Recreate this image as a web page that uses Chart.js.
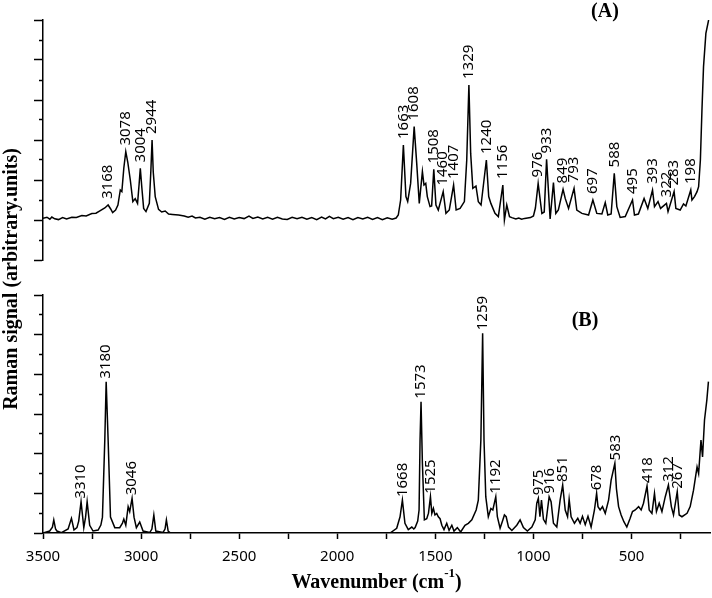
<!DOCTYPE html>
<html>
<head>
<meta charset="utf-8">
<title>Raman spectra</title>
<script src="https://cdn.jsdelivr.net/npm/chart.js@4.4.1/dist/chart.umd.min.js"></script>
<style>
  html, body { margin: 0; padding: 0; background: #fff; }
  #wrap { position: relative; width: 712px; height: 598px; }
</style>
</head>
<body>
<div id="wrap"><canvas id="grafico-raman"></canvas></div>
<script>
// spectrum (A): wavenumber (cm-1) and signal
var waveA = [3500,3480,3465,3455,3440,3421,3400,3380,3353,3330,3302,3280,3251,3230,3208,3185,3168,3155,3145,3130,
    3118,3106,3098,3088,3078,3068,3055,3042,3030,3018,3010,3004,2996,2987,2975,2958,2950,2944,2938,2928,
    2911,2895,2877,2860,2840,2809,2780,2760,2740,2723,
    2700,2675,2650,2625,2600,2575,2550,2525,2500,2475,2450,2430,2405,2380,2355,2330,2305,2280,2255,2230,
    2205,2180,2155,2130,2105,2080,2060,2040,2020,1995,1970,1945,1920,1895,1870,1845,1820,1795,1770,1745,1720,1700,
    1689,1677,1663,1650,1641,1626,1608,1595,1582,1566,1558,1549,1541,1527,1519,1508,1497,1485,1460,1446,
    1429,1407,1394,1374,1352,1340,1329,1320,1309,1293,1281,1267,1240,1228,1217,1196,1179,1156,1148,1136,
    1122,1110,1090,1075,1060,1045,1030,1015,1000,990,976,
    957,945,933,915,898,886,873,849,838,821,793,779,753,719,697,677,651,634,621,604,
    588,575,558,532,495,485,465,436,417,393,383,365,352,322,314,283,274,252,235,223,
    198,192,179,166,158,149,141,133,121,107];
var intA = [2.08,2.14,2.04,2.15,2.06,2.02,2.12,2.05,2.14,2.13,2.22,2.2,2.32,2.34,2.47,2.6,2.75,2.55,2.37,2.5,
    2.75,3.5,3.42,4.6,5.42,4.9,4.0,2.92,3.07,2.83,3.8,4.58,3.6,2.58,2.42,2.83,4.5,6.0,4.4,3.17,
    2.53,2.4,2.45,2.3,2.28,2.25,2.2,2.14,2.2,2.1,
    2.14,2.04,2.13,2.06,2.12,2.03,2.14,2.05,2.12,2.07,2.2,2.08,2.15,2.05,2.13,2.04,2.14,2.05,2.03,2.13,
    2.06,2.14,2.04,2.12,2.02,2.15,2.05,2.18,2.07,2.14,2.04,2.12,2.02,2.12,2.05,2.14,2.03,2.12,2.01,2.11,2.04,2.1,
    2.25,3.0,5.75,3.17,2.92,3.83,6.67,4.83,2.83,4.42,3.75,3.83,3.17,2.67,2.7,4.53,2.75,2.5,3.42,2.33,
    2.5,3.75,2.5,2.58,2.92,5.0,8.75,5.33,3.58,3.7,2.92,2.75,5.0,3.17,2.83,2.33,2.17,3.75,2.0,2.75,
    2.17,2.12,2.05,2.1,2.04,2.08,2.1,2.12,2.2,2.6,3.83,
    2.33,2.4,5.03,2.05,3.87,2.33,2.5,3.53,3.08,2.58,3.58,2.5,2.33,2.25,3.0,2.33,2.3,2.87,2.25,2.3,
    4.33,2.67,2.13,2.17,3.0,2.25,2.3,3.08,2.58,3.5,2.67,2.92,2.58,2.83,2.42,3.42,2.58,2.5,2.8,2.7,
    3.5,3.0,3.17,3.42,3.67,5.0,7.5,9.67,11.33,12.0];

// spectrum (B)
var waveB = [3500,3466,3452,3445,3436,3429,3406,3372,3355,3342,3327,3318,3306,3292,3283,3275,3262,3245,3219,3205,
    3197,3185,3178,3168,3156,3134,3109,3095,3088,3078,3066,3058,3046,3036,3024,3007,2990,2956,2945,2935,
    2925,2888,2878,2871,2862,2850,2700,2500,2300,2100,1900,1731,
    1697,1680,1668,1655,1638,1620,1610,1603,1590,1583,1578,1573,1566,1556,1544,1535,1525,1518,1510,1502,
    1493,1485,1476,1467,1456,1442,1430,1416,1405,1388,1371,1349,1332,1314,1292,1281,1268,1259,1252,1243,
    1230,1217,1207,1192,1184,1170,1156,1148,1139,1127,1110,1085,1068,1051,1031,1008,991,
    983,975,967,959,949,937,920,910,898,881,864,851,838,826,818,808,791,774,762,750,
    736,722,706,689,678,671,660,648,634,617,604,585,577,566,553,539,524,507,495,481,
    464,451,439,421,410,396,383,373,359,345,328,312,297,286,267,257,243,217,201,184,
    166,158,146,138,128,116,108];
var intB = [0,0.1,0.29,0.66,0.2,0.1,0.02,0.2,0.74,0.15,0.27,0.6,1.58,0.27,0.8,1.58,0.39,0.1,0.15,0.4,
    0.8,4.69,7.63,4.69,0.8,0.27,0.27,0.5,0.7,0.39,1.33,1.08,1.75,0.8,0.27,0.55,0.1,0.02,0.2,0.91,
    0.1,0.03,0.2,0.66,0.1,0,0,0,0,0,0,0,
    0.24,0.82,1.66,0.49,0.17,0.3,0.2,0.27,0.6,1.16,4.69,6.62,3.51,0.66,0.72,1.0,1.83,0.99,1.24,0.91,
    0.99,0.82,0.72,0.39,0.17,0.49,0.13,0.39,0.1,0.27,0.05,0.39,0.49,0.66,1.16,1.66,4.69,10.07,4.69,1.83,
    0.82,1.24,1.16,1.83,0.82,0.24,0.66,0.91,0.82,0.3,0.13,0.39,0.66,0.27,0.1,0.3,0.66,
    1.5,1.75,0.82,1.66,0.69,0.49,1.83,1.58,0.49,0.3,1.66,2.42,1.16,0.82,1.7,0.82,0.49,0.74,0.49,0.84,
    0.42,0.84,0.3,1.16,2.0,1.33,1.16,1.33,0.99,1.66,2.67,3.51,2.24,1.33,0.91,0.57,0.3,0.74,1.08,1.16,
    1.33,1.16,1.5,2.37,1.16,0.99,2.0,1.08,1.5,1.08,1.83,2.42,1.33,0.91,2.08,0.91,0.82,0.99,1.33,2.16,
    3.33,3.0,4.69,3.84,5.7,6.71,7.63];

// labelled peaks
var peaksA = [3168,3078,3004,2944,1663,1608,1508,1460,1407,1329,1240,1156,976,933,849,793,697,588,495,393,322,283,198];
var peaksB = [3310,3180,3046,1668,1573,1525,1259,1192,975,916,851,678,583,418,312,267];

// x axis tick labels
var tickLabels = [3500,3000,2500,2000,1500,1000,500];

var serif = '"Liberation Serif", "Times New Roman", serif';
var sans = '"Noto Sans", "DejaVu Sans", sans-serif';

function toPoints(wave, inten) {
    return wave.map(function (w, i) { return { x: w, y: inten[i] }; });
}

// highest value of a spectrum near a labelled wavenumber
function peakTop(wave, inten, wn) {
    var best = 0;
    for (var i = 0; i < wave.length; i++) {
        if (Math.abs(wave[i] - wn) <= 8 && inten[i] > best) best = inten[i];
    }
    return best;
}

function drawPeak(ctx, xScale, yScale, wn, top, gap) {
    ctx.save();
    ctx.translate(xScale.getPixelForValue(wn), yScale.getPixelForValue(top) - gap);
    ctx.rotate(-Math.PI / 2);
    ctx.fillText(String(wn), 0, 0);
    ctx.restore();
}

var ramanText = {
    id: 'ramanText',
    afterDatasetsDraw: function (chart) {
        var ctx = chart.ctx, x = chart.scales.x, area = chart.chartArea;
        ctx.save();
        ctx.fillStyle = '#000';

        ctx.font = '15px ' + sans;
        ctx.textAlign = 'left';
        ctx.textBaseline = 'middle';
        peaksA.forEach(function (p) { drawPeak(ctx, x, chart.scales.yA, p, peakTop(waveA, intA, p), 6); });
        peaksB.forEach(function (p) { drawPeak(ctx, x, chart.scales.yB, p, peakTop(waveB, intB, p), 3); });

        ctx.textBaseline = 'alphabetic';
        ctx.textAlign = 'center';
        ctx.font = 'bold 20px ' + serif;
        ctx.fillText('(A)', 605, 17);
        ctx.fillText('(B)', 585, 326);

        // y title
        ctx.save();
        ctx.translate(17, 279);
        ctx.rotate(-Math.PI / 2);
        ctx.fillText('Raman signal (arbitrary.units)', 0, 0);
        ctx.restore();

        // x title with superscript
        ctx.textAlign = 'left';
        var t1 = 'Wavenumber (cm', t2 = '-1', t3 = ')';
        var w1 = ctx.measureText(t1).width, w3 = ctx.measureText(t3).width;
        ctx.font = 'bold 13px ' + serif;
        var w2 = ctx.measureText(t2).width;
        var x0 = (area.left + area.right) / 2 - (w1 + w2 + w3) / 2;
        ctx.fillText(t2, x0 + w1, 577);
        ctx.font = 'bold 20px ' + serif;
        ctx.fillText(t1, x0, 588);
        ctx.fillText(t3, x0 + w1 + w2, 588);
        ctx.restore();
    }
};

function panelAxis(stackWeight, weight) {
    return {
        type: 'linear',
        position: 'left',
        stack: 'panels',
        stackWeight: stackWeight,
        weight: weight,
        min: 0,
        max: 12,
        ticks: { stepSize: 1, display: false },
        grid: {
            drawOnChartArea: false,
            drawTicks: true,
            tickLength: 9,
            tickWidth: 1.5,
            tickColor: '#000',
            // short marks on odd steps
            tickBorderDash: function (c) { return c.tick && c.tick.value % 2 ? [0, 5, 4, 20] : []; }
        },
        border: { display: true, color: '#000', width: 1.5 },
        afterFit: function (s) { s.width = 43; }
    };
}

var ctxRaman = document.getElementById('grafico-raman').getContext('2d');
var myRamanChart = new Chart(ctxRaman, {
    type: 'line',
    data: {
        datasets: [
            {
                label: '(A)',
                data: toPoints(waveA, intA),
                yAxisID: 'yA',
                borderColor: '#000',
                borderWidth: 1.5,
                pointRadius: 0,
                tension: 0,
                fill: false
            },
            {
                label: '(B)',
                data: toPoints(waveB, intB),
                yAxisID: 'yB',
                borderColor: '#000',
                borderWidth: 1.5,
                pointRadius: 0,
                tension: 0,
                fill: false
            }
        ]
    },
    options: {
        responsive: true,
        maintainAspectRatio: false,
        animation: false,
        events: [],
        layout: { padding: { top: 20, right: 2, bottom: 0, left: 0 } },
        plugins: {
            legend: { display: false },
            tooltip: { enabled: false }
        },
        scales: {
            x: {
                type: 'linear',
                position: 'bottom',
                reverse: true,
                min: 100,
                max: 3500,
                ticks: {
                    stepSize: 250,
                    includeBounds: false,
                    autoSkip: false,
                    maxRotation: 0,
                    padding: 9,
                    color: '#000',
                    font: { family: sans, size: 15 },
                    callback: function (v) { return tickLabels.indexOf(v) >= 0 ? String(v) : ''; }
                },
                grid: { drawOnChartArea: false, tickLength: 6, tickWidth: 1.5, tickColor: '#000' },
                border: { color: '#000', width: 1.5 },
                afterFit: function (s) { s.height = 65; }
            },
            yA: panelAxis(240, 3),
            yGap: {
                type: 'linear',
                position: 'left',
                stack: 'panels',
                stackWeight: 35,
                weight: 2,
                ticks: { display: false },
                grid: { display: false },
                border: { display: false },
                afterFit: function (s) { s.width = 43; }
            },
            yB: panelAxis(238, 1)
        }
    },
    plugins: [ramanText]
});
</script>
</body>
</html>
